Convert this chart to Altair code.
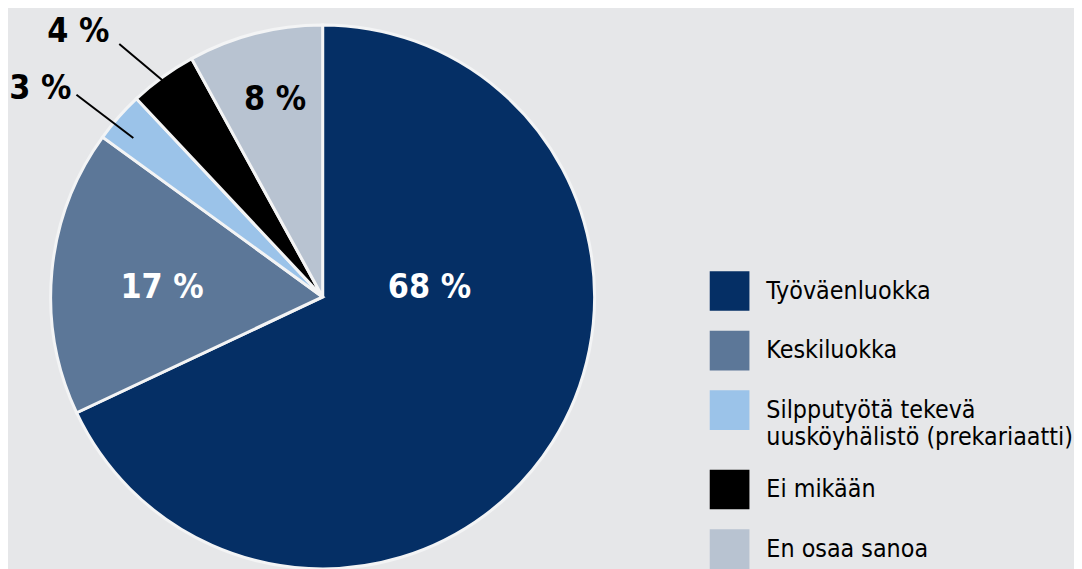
import math
import altair as alt
import pandas as pd

# ---- data ----
categories = [
    "Työväenluokka",
    "Keskiluokka",
    "Silpputyötä tekevä uusköyhälistö (prekariaatti)",
    "Ei mikään",
    "En osaa sanoa",
]
values = [68, 17, 3, 4, 8]
label_texts = ["68 %", "17 %", "3 %", "4 %", "8 %"]

# ---- style / layout ----
colors = ["#052f65", "#5c7798", "#9bc3e9", "#000000", "#b8c3d1"]
label_colors = ["white", "white", "black", "black", "black"]
label_angle_deg = [85.2, 273.2, 306.3, 317.3, 346.4]
label_radius = [108, 162, 353, 363, 204]
# leader lines: (angle_in, r_in, angle_out, r_out)
leader_geom = [(310.0, 249, 309.4, 321), (323.6, 270, 321.2, 327)]
CX, CY, R = 317, 289, 274
BG = "#e6e7e9"
FONT = "Liberation Sans Narrow, DejaVu Sans Condensed, Liberation Sans, sans-serif"

df = pd.DataFrame({"cat": categories, "value": values, "order": range(len(values))})

lab = pd.DataFrame({
    "text": label_texts,
    "color": label_colors,
    "theta": [math.radians(a) for a in label_angle_deg],
    "r": label_radius,
})

rows = []
for a0, r0, a1, r1 in leader_geom:
    t0, t1 = math.radians(a0), math.radians(a1)
    rows.append({
        "x": CX + r0 * math.sin(t0), "y": CY - r0 * math.cos(t0),
        "x2": CX + r1 * math.sin(t1), "y2": CY - r1 * math.cos(t1),
    })
lines = pd.DataFrame(rows)

multi = categories[2]
label_expr = (
    f"datum.label == '{multi}' ? ['Silpputyötä tekevä', 'uusköyhälistö (prekariaatti)'] : datum.label"
)

pie = alt.Chart(df).mark_arc(stroke="#f3f4f5", strokeWidth=3).encode(
    theta=alt.Theta("value:Q", stack=True),
    order=alt.Order("order:Q"),
    color=alt.Color(
        "cat:N",
        scale=alt.Scale(domain=categories, range=colors),
        sort=categories,
        legend=alt.Legend(
            title=None,
            orient="none",
            legendX=707,
            legendY=263,
            symbolType="square",
            symbolSize=1600,
            symbolStrokeWidth=0,
            labelFontSize=25,
            labelFont=FONT,
            labelColor="black",
            labelOffset=17,
            labelLimit=500,
            rowPadding=20,
            padding=0,
            labelExpr=label_expr,
        ),
    ),
    x=alt.value(CX),
    y=alt.value(CY),
    radius=alt.value(R),
)

labels = alt.Chart(lab).mark_text(
    font=FONT, fontSize=34, fontWeight="bold", align="center", baseline="middle"
).encode(
    text="text:N",
    color=alt.Color("color:N", scale=None),
    theta=alt.Theta("theta:Q", scale=None),
    radius=alt.Radius("r:Q", scale=None),
    x=alt.value(CX),
    y=alt.value(CY),
)

rules = alt.Chart(lines).mark_rule(color="black", strokeWidth=2).encode(
    x=alt.X("x:Q", scale=None),
    y=alt.Y("y:Q", scale=None),
    x2="x2:Q",
    y2="y2:Q",
)

chart = alt.layer(pie, rules, labels).properties(
    width=1074,
    height=561,
    autosize=alt.AutoSizeParams(type="none"),
    padding=0,
    background=BG,
).configure_view(stroke=None)

chart.save("out.html", embed_options={"renderer": "svg", "actions": False})
